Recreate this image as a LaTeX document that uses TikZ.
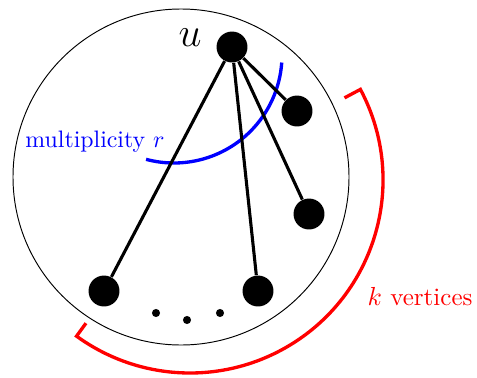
\documentclass[tikz,border=0pt]{standalone}
\usetikzlibrary{calc}
\tikzset{vert/.style={circle, fill=black, inner sep=0pt, minimum size=13pt},
  smalldot/.style={circle, fill=black, inner sep=0pt, minimum size=3.4pt}}
\begin{document}
\begin{tikzpicture}[x=0.42pt, y=0.42pt]
	\useasboundingbox (0,0) rectangle (477,377);
	\draw (181,200) circle[radius=168];
	\node[vert] (u) at (232,330) {};
	\node at (190,339) {\LARGE $u$};
	\node[vert] (v1) at (297,266) {};
	\node[vert] (v2) at (309,163) {};
	\node[vert] (v3) at (258,86) {};
	\node[vert] (v4) at (104,86) {};
	\foreach \x/\y [count=\i] in {156/64,187/57,220/64} \node[smalldot] (d\i) at (\x,\y) {};
	% multiplicity
	\coordinate (cb) at (174,322);
	\draw[blue, line width=1.4pt] ($(cb)+(-105:108)$) arc[start angle=-105, end angle=-4, radius=108];
	\node[blue] (mult) at (95,235) {multiplicity $r$};
	\foreach \v in {v1,v2,v3,v4} \draw[line width=1.3pt] (u) -- (\v);
	% the k vertices
	\coordinate (cr) at (190,197);
	\draw[red, line width=1.4pt] ($(cr)+(28:175)$) -- ($(cr)+(28:193)$) arc[start angle=28, end angle=-126, radius=193] -- ($(cr)+(-126:177)$);
	\node[red] (klab) at (420,80) {\fontsize{10.5}{12}\selectfont $k$ vertices};
\end{tikzpicture}
\end{document}
